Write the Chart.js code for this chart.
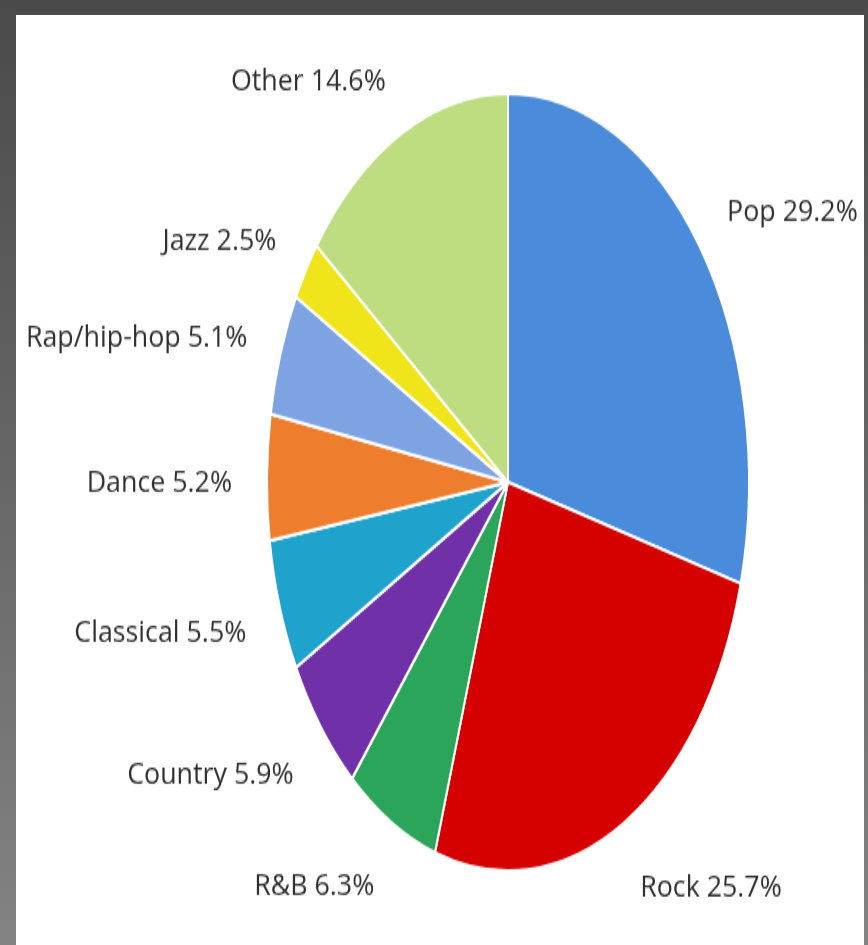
<!DOCTYPE html>
<html>
<head>
<meta charset="utf-8">
<title>Music sales by genre</title>
<script src="https://cdn.jsdelivr.net/npm/chart.js@4.4.1/dist/chart.umd.min.js"></script>
<style>
  html, body {
    margin: 0;
    padding: 0;
  }
  body {
    width: 868px;
    height: 945px;
    overflow: hidden;
    position: relative;
    background: linear-gradient(#4a4a4a, #838383);
  }
  .sheet {
    position: absolute;
    left: 16px;
    top: 15px;
    width: 848px;
    height: 930px;
    background: #fff;
  }
  /* the pie is drawn round and stretched tall */
  .stretch {
    position: absolute;
    left: 0;
    top: 0;
    width: 868px;
    height: 586px;
    transform: scaleY(1.6126);
    transform-origin: 0 0;
  }
</style>
</head>
<body>
<div class="sheet"></div>
<div class="stretch">
  <canvas id="genreChart" width="868" height="586"></canvas>
</div>
<script>
const genres = ["Pop", "Rock", "R&B", "Country", "Classical", "Dance", "Rap/hip-hop", "Jazz", "Other"];
const shares = [29.2, 25.7, 6.3, 5.9, 5.5, 5.2, 5.1, 2.5, 14.6];
const sliceColors = [
  "#4a8cdb", // Pop
  "#d50000", // Rock
  "#2aa55a", // R&B
  "#7030a8", // Country
  "#1fa2cc", // Classical
  "#ee7d2e", // Dance
  "#7ea3e3", // Rap/hip-hop
  "#f0e41a", // Jazz
  "#bedc80", // Other
];

// canvas is squashed back by the css stretch, so text gets widened here
const textStretch = 1.41;

const outsideLabels = {
  id: "outsideLabels",
  afterDatasetsDraw(chart) {
    const ctx = chart.ctx;
    const meta = chart.getDatasetMeta(0);
    ctx.save();
    ctx.font = '19px "Open Sans"';
    ctx.fillStyle = "#2f2f2f";
    ctx.textBaseline = "middle";
    meta.data.forEach((arc, i) => {
      const { x, y, startAngle, endAngle, outerRadius } = arc.getProps(
        ["x", "y", "startAngle", "endAngle", "outerRadius"],
        true
      );
      const mid = (startAngle + endAngle) / 2;
      const dx = Math.cos(mid);
      const dy = Math.sin(mid);
      const lx = x + dx * outerRadius * 1.145;
      const ly = y + dy * outerRadius * 1.17 + 4;
      const text = genres[i] + " " + shares[i].toFixed(1) + "%";
      ctx.save();
      ctx.translate(lx, ly);
      ctx.scale(textStretch, 1);
      ctx.textAlign = dx >= 0 ? "left" : "right";
      ctx.fillText(text, 0, 0);
      ctx.restore();
    });
    ctx.restore();
  },
};

const config = {
  type: "pie",
  data: {
    labels: genres,
    datasets: [
      {
        data: shares,
        backgroundColor: sliceColors,
        borderColor: "#ffffff",
        borderWidth: 2,
      },
    ],
  },
  options: {
    responsive: false,
    animation: false,
    layout: {
      padding: { left: 266, right: 118, top: 57, bottom: 45 },
    },
    plugins: {
      legend: { display: false },
      tooltip: { enabled: false },
    },
  },
  plugins: [outsideLabels],
};

const chart = new Chart(document.getElementById("genreChart"), config);
</script>
</body>
</html>
